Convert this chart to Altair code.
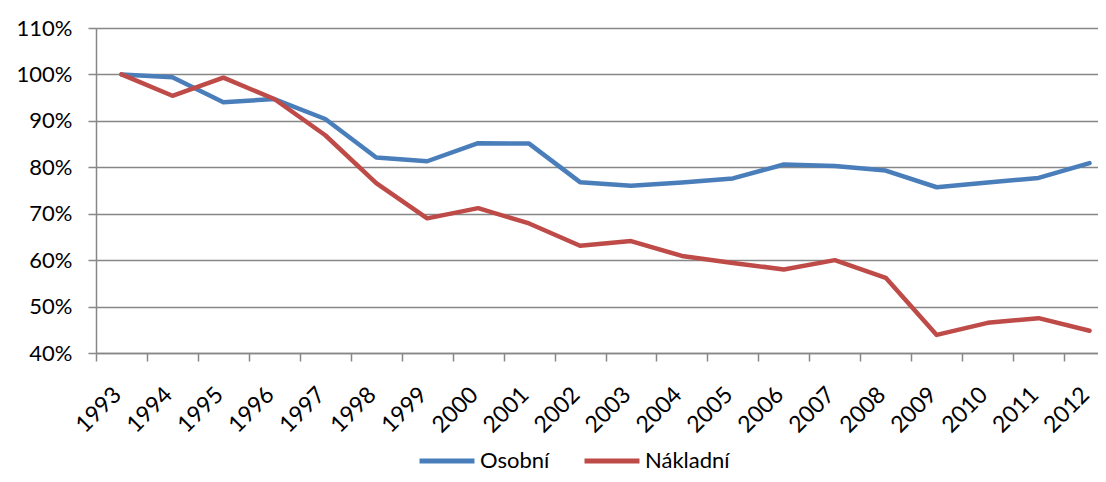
import altair as alt
import pandas as pd

years = [1993, 1994, 1995, 1996, 1997, 1998, 1999, 2000, 2001, 2002,
         2003, 2004, 2005, 2006, 2007, 2008, 2009, 2010, 2011, 2012]
osobni = [100, 99.4, 94.0, 94.7, 90.4, 82.1, 81.3, 85.2, 85.1, 76.8,
          76.0, 76.7, 77.6, 80.6, 80.3, 79.3, 75.7, 76.7, 77.7, 80.9]
nakladni = [100, 95.4, 99.3, 94.7, 86.9, 76.6, 69.0, 71.2, 67.9, 63.1,
            64.1, 60.9, 59.4, 58.0, 60.0, 56.2, 43.9, 46.5, 47.5, 44.8]
series = ["Osobní", "Nákladní"]
colors = ["#4A7EBB", "#BE4B48"]
y_ticks = [0.4, 0.5, 0.6, 0.7, 0.8, 0.9, 1.0, 1.1]

rows = []
for name, vals in zip(series, [osobni, nakladni]):
    for i, (yr, v) in enumerate(zip(years, vals)):
        rows.append({"idx": i, "year": yr, "value": v / 100.0, "series": name})
df = pd.DataFrame(rows)

W, H = 1002, 325
x_max = 19.166
band = W / (x_max + 0.5)
boundaries = [i - 0.5 for i in range(len(years))]
label_expr = "[" + ",".join("'%d'" % y for y in years) + "][datum.value + 0.5]"

FONT = "Lato"
FS = 22
GRID = "#878787"

x = alt.X("idx:Q",
          scale=alt.Scale(domain=[-0.5, x_max], nice=False, zero=False),
          axis=alt.Axis(values=boundaries, labelExpr=label_expr, labelAngle=-45,
                        labelOffset=band / 2 - 12, labelOverlap=False, labelBound=False,
                        labelFlush=False, grid=False, tickSize=8, labelPadding=22,
                        labelFontSize=23,
                        title=None, domainColor=GRID, tickColor=GRID,
                        domainWidth=1.5, tickWidth=1.5))
y = alt.Y("value:Q",
          scale=alt.Scale(domain=[0.4, 1.1], nice=False, zero=False),
          axis=alt.Axis(values=y_ticks, format=".0%", grid=True, gridColor=GRID,
                        gridWidth=1.4, tickSize=8, labelPadding=16, title=None,
                        labelFontSize=22,
                        domainColor=GRID, tickColor=GRID, domainWidth=1.5,
                        tickWidth=1.5))
color = alt.Color("series:N",
                  scale=alt.Scale(domain=series, range=colors),
                  legend=alt.Legend(title=None, orient="none", direction="horizontal",
                                    legendX=321, legendY=403, symbolType="stroke",
                                    symbolSize=3025, symbolStrokeWidth=5,
                                    labelOffset=3, columnPadding=24, padding=0,
                                    labelFontSize=22))

layers = []
for name in series:
    layers.append(
        alt.Chart(df[df["series"] == name])
        .mark_line(strokeWidth=4.5, strokeCap="round", strokeJoin="round")
        .encode(x=x, y=y, color=color, order="idx:Q")
    )

chart = (
    alt.layer(*layers)
    .properties(width=W, height=H,
                autosize=alt.AutoSizeParams(type="none"),
                padding={"left": 88, "top": 20, "right": 0, "bottom": 121})
    .configure_view(stroke=None)
    .configure_axis(labelFont=FONT, labelFontSize=FS, labelColor="#000000")
    .configure_legend(labelFont=FONT, labelFontSize=FS, labelColor="#000000")
)

chart.save("out.html", embed_options={"renderer": "svg", "actions": False})
